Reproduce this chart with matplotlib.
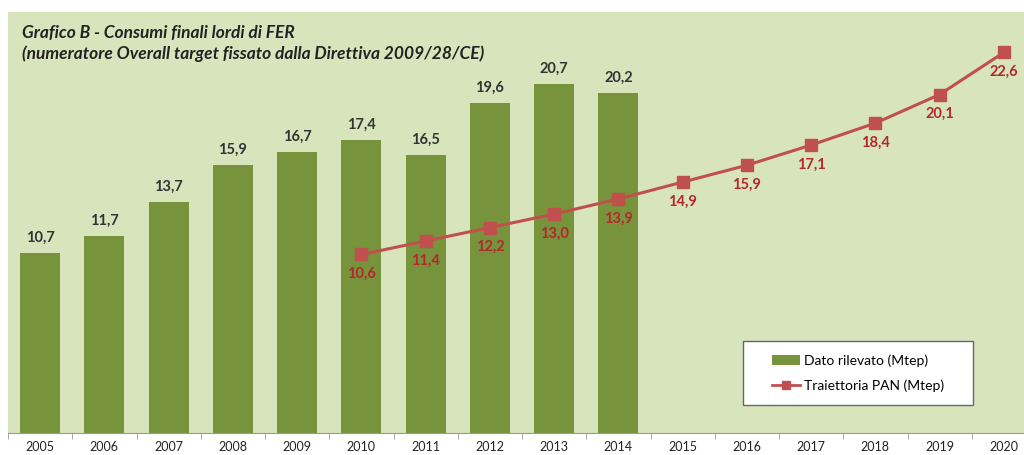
import numpy as np
import matplotlib.pyplot as plt
from matplotlib.lines import Line2D
from matplotlib.patches import Patch, Rectangle

plt.rcParams['font.family'] = ['Lato', 'DejaVu Sans']

years = ["2005", "2006", "2007", "2008", "2009", "2010", "2011", "2012",
         "2013", "2014", "2015", "2016", "2017", "2018", "2019", "2020"]
dato_rilevato = [10.7, 11.7, 13.7, 15.9, 16.7, 17.4, 16.5, 19.6, 20.7, 20.2]
pan_years = ["2010", "2011", "2012", "2013", "2014", "2015",
             "2016", "2017", "2018", "2019", "2020"]
traiettoria_pan = [10.6, 11.4, 12.2, 13.0, 13.9, 14.9, 15.9, 17.1, 18.4, 20.1, 22.6]

bar_color = "#77933c"
line_color = "#c0504d"
label_red = "#b3272d"
bg_color = "#d8e4bc"

fig = plt.figure(figsize=(10.24, 4.55), dpi=100, facecolor="white")
# plot area runs past the right edge of the picture, like the cropped original
ax = fig.add_axes([8 / 1024, 22 / 455, 1028 / 1024, 421 / 455])
ax.set_facecolor(bg_color)

x = np.arange(len(years))
xb = x[:len(dato_rilevato)]
xl = np.array([years.index(y) for y in pan_years])

ax.bar(xb, dato_rilevato, width=0.62, color=bar_color, zorder=2)
ax.plot(xl, traiettoria_pan, color=line_color, lw=2.2, marker="s",
        markersize=8.5, zorder=3)

for xi, v in zip(xb, dato_rilevato):
    ax.annotate(f"{v:.1f}".replace(".", ","), (xi, v), xytext=(0, 6),
                textcoords="offset points", ha="center", va="bottom",
                fontsize=10.5, fontweight="bold", color="#333333")
for xi, v in zip(xl, traiettoria_pan):
    ax.annotate(f"{v:.1f}".replace(".", ","), (xi, v), xytext=(0, -9),
                textcoords="offset points", ha="center", va="top",
                fontsize=10.5, fontweight="bold", color=label_red, zorder=4)

ax.set_xlim(-0.5, len(years) - 0.5)
ax.set_ylim(0, 25)
ax.set_yticks([])
ax.set_xticks(x)
ax.set_xticklabels(years, fontsize=9, color="#222222")
ax.set_xticks(np.arange(-0.5, len(years), 1), minor=True)
ax.tick_params(axis="x", which="major", length=0, pad=6)
ax.tick_params(axis="x", which="minor", length=4, color="#999999", direction="out")
for side in ["top", "right", "left"]:
    ax.spines[side].set_visible(False)
ax.spines["bottom"].set_color("#999999")

ax.text(0.014, 0.968, "Grafico B - Consumi finali lordi di FER\n"
        "(numeratore Overall target fissato dalla Direttiva 2009/28/CE)",
        transform=ax.transAxes, ha="left", va="top", fontsize=12.5,
        fontweight="bold", fontstyle="italic", color="#222222", linespacing=1.3)

# legend box
box = Rectangle((743 / 1024, 50 / 455), 230 / 1024, 64 / 455,
                transform=fig.transFigure, facecolor="white",
                edgecolor="#666666", lw=1.0, zorder=5)
fig.patches.append(box)

handles = [Patch(facecolor=bar_color, edgecolor="none"),
           Line2D([0], [0], color=line_color, lw=2, marker="s", markersize=6)]
leg = fig.legend(handles, ["Dato rilevato (Mtep)", "Traiettoria PAN (Mtep)"],
                 loc="center", bbox_to_anchor=(858 / 1024, 82 / 455),
                 frameon=False, fontsize=10, handlelength=2.0,
                 labelspacing=0.9, borderpad=0, handletextpad=0.3)
leg.set_zorder(6)

plt.savefig("out.png", dpi=100, facecolor="white")
plt.close()
